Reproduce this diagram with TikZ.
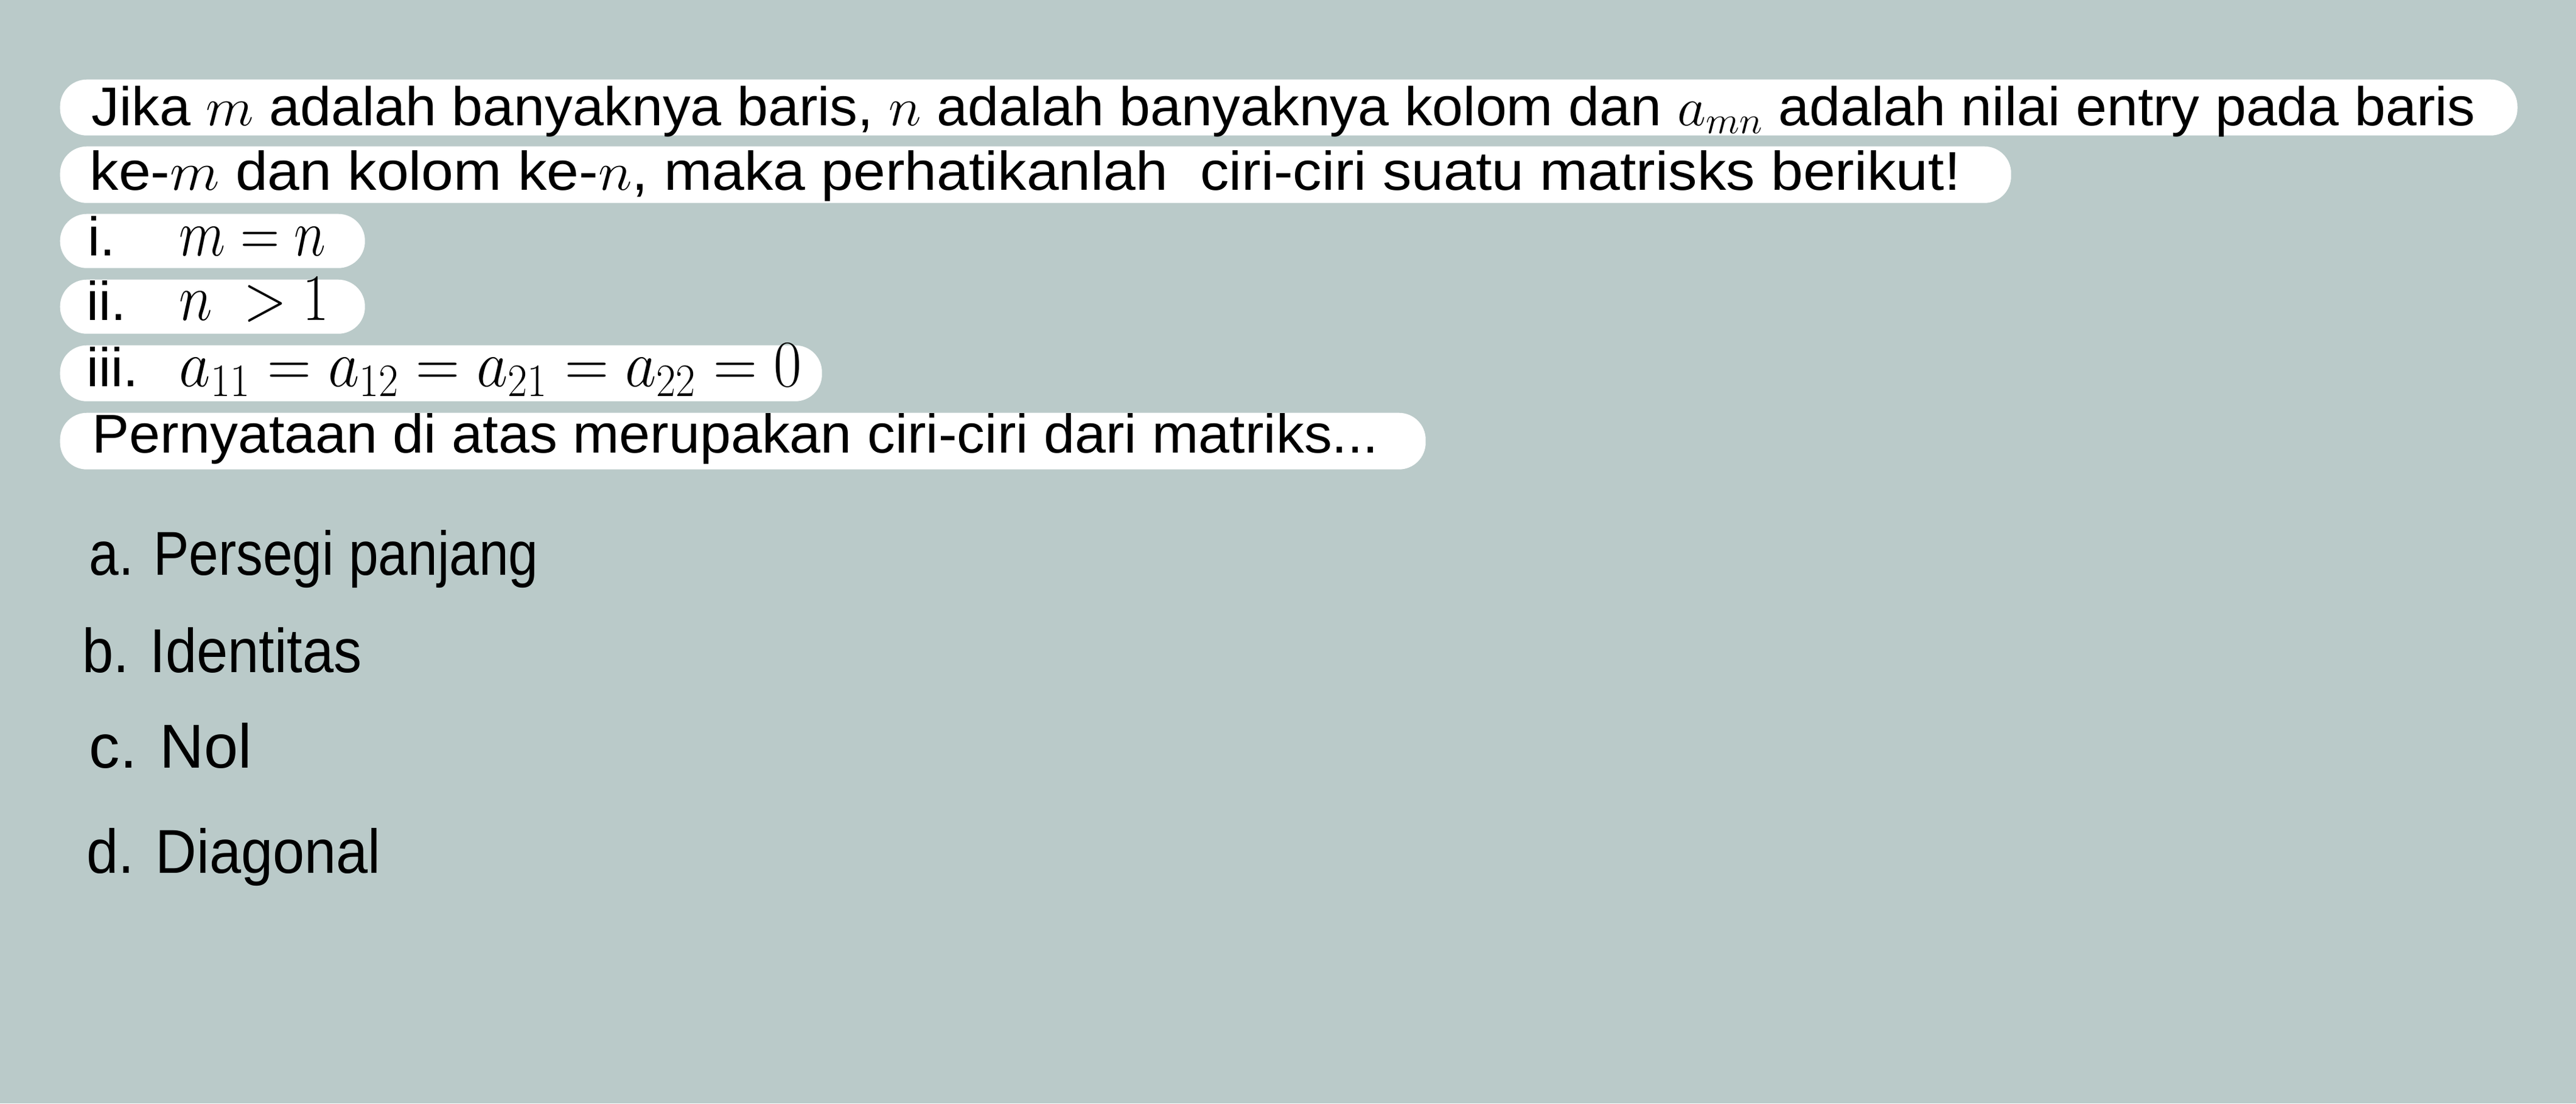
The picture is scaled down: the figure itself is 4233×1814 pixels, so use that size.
\RequirePackage{fix-cm}
\documentclass[tikz,border=0pt]{standalone}
\usepackage{fontspec}
\setmainfont{Liberation Sans}
\usepackage{graphicx}
\newlength\pxu
\setlength\pxu{0.01cm}
\definecolor{bgc}{RGB}{186,202,201}
\newcommand{\fitw}[2]{\resizebox{#1\pxu}{\height}{#2}}
\tikzset{
  pill/.style={shape=rectangle, fill=white, draw=none, rounded corners=44\pxu, inner sep=0pt, anchor=north west},
  txt/.style={anchor=base west, inner sep=0pt, font=\fontsize{25.5}{30}\selectfont},
  mth/.style={anchor=base west, inner sep=0pt, font=\fontsize{31}{36}\selectfont},
  opt/.style={anchor=base west, inner sep=0pt, font=\fontsize{29}{34}\selectfont}
}
\begin{document}
\begin{tikzpicture}[x=0.01cm, y=-0.01cm]
\fill[bgc] (0,0) rectangle (4233,1814);
\useasboundingbox (0,0) rectangle (4233,1814);
% pills
\node[pill, minimum width=4038\pxu, minimum height=92\pxu] (p1) at (98,130) {};
\node[pill, minimum width=3206\pxu, minimum height=93\pxu] (p2) at (98,240) {};
\node[pill, minimum width=501\pxu, minimum height=89\pxu] (p3) at (98,351) {};
\node[pill, minimum width=501\pxu, minimum height=89\pxu] (p4) at (98,459) {};
\node[pill, minimum width=1252\pxu, minimum height=92\pxu] (p5) at (98,567) {};
\node[pill, minimum width=2244\pxu, minimum height=93\pxu] (p6) at (98,678) {};
% texts
\node[txt] (t1) at (150,206) {\fitw{3917}{Jika $m$ adalah banyaknya baris, $n$ adalah banyaknya kolom dan $a_{mn}$ adalah nilai entry pada baris}};
\node[txt] (t2) at (147,312) {\fitw{3074}{ke-$m$ dan kolom ke-$n$, maka perhatikanlah\ \ ciri-ciri suatu matrisks berikut!}};
\node[txt] (l1) at (144,420) {i.};
\node[mth] (m1) at (294,420) {\fitw{241}{$m=n$}};
\node[txt] (l2) at (142,526) {ii.};
\node[mth] (m2) at (294,526) {\fitw{246}{$n\ >1$}};
\node[txt] (l3) at (142,635) {iii.};
\node[mth] (m3) at (294,635) {\fitw{1023}{$a_{11}=a_{12}=a_{21}=a_{22}=0$}};
\node[txt] (t3) at (151,744) {\fitw{2114}{Pernyataan di atas merupakan ciri-ciri dari matriks...}};
% options
\node[opt] (oa) at (146,945) {\fitw{738}{a. Persegi panjang}};
\node[opt] (ob) at (135,1105) {\fitw{459}{b. Identitas}};
\node[opt] (oc) at (146,1262) {\fitw{267}{c. Nol}};
\node[opt] (od) at (142,1435) {\fitw{483}{d. Diagonal}};
\end{tikzpicture}
\end{document}
